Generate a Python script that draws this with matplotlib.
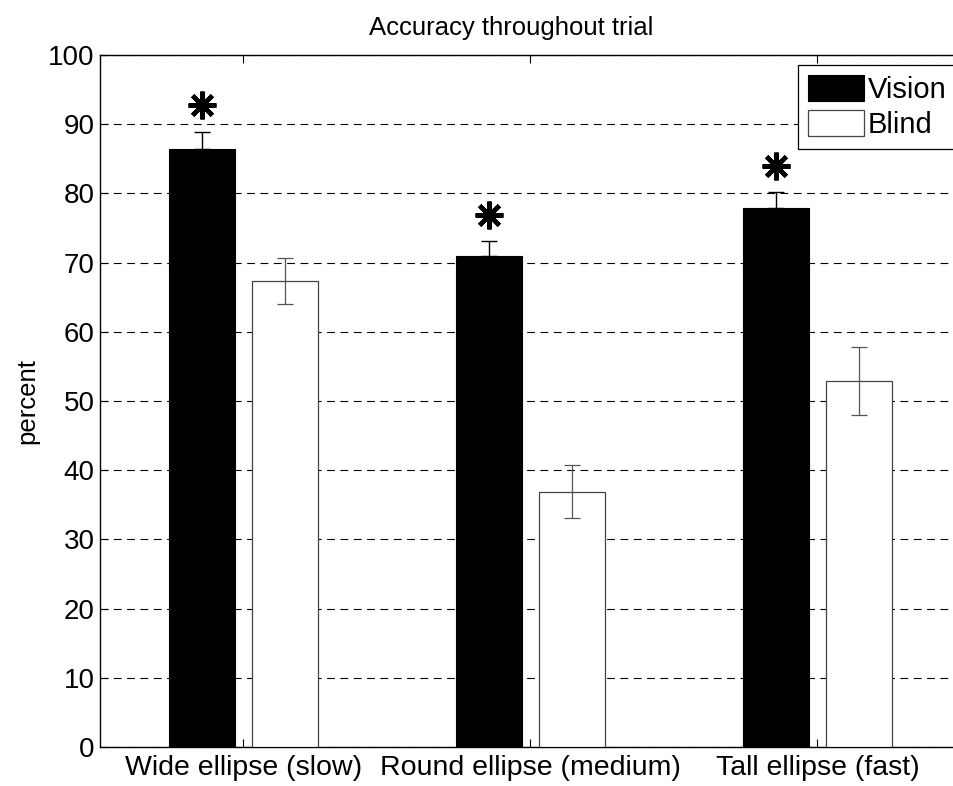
import matplotlib
matplotlib.use("Agg")
import matplotlib.pyplot as plt
import numpy as np
from matplotlib import font_manager

categories = ["Wide ellipse (slow)", "Round ellipse (medium)", "Tall ellipse (fast)"]
vision = [86.4, 71.0, 77.9]
vision_err = [2.5, 2.1, 2.3]
blind = [67.3, 36.9, 52.9]
blind_err = [3.3, 3.8, 4.9]
star_y = [92.8, 76.9, 84.0]
yticks = [0, 10, 20, 30, 40, 50, 60, 70, 80, 90, 100]

names = {f.name for f in font_manager.fontManager.ttflist}
base = "Liberation Sans" if "Liberation Sans" in names else "DejaVu Sans"
plt.rcParams["font.family"] = [base, "DejaVu Sans"]

W_PX, H_PX = 954, 786
AX_L, AX_B, AX_W, AX_H = 100, 39, 880, 692   # axes box in pixels; runs past the right edge
UNIT = 287.0                                  # pixels per category step

fig = plt.figure(figsize=(W_PX / 100, H_PX / 100), dpi=100)
ax = fig.add_axes([AX_L / W_PX, AX_B / H_PX, AX_W / W_PX, AX_H / H_PX])

x = np.arange(1, len(categories) + 1)
w = 0.23
off = 0.143

b_vis = ax.bar(x - off, vision, w, color="black", edgecolor="black", linewidth=0.8, zorder=3)
b_bl = ax.bar(x + off, blind, w, color="white", edgecolor="#444444", linewidth=0.9, zorder=3)

ax.errorbar(x - off, vision, yerr=[np.zeros(3), vision_err], fmt="none",
            ecolor="black", elinewidth=1.0, capsize=6, capthick=1.0, zorder=4)
ax.errorbar(x + off, blind, yerr=blind_err, fmt="none",
            ecolor="#555555", elinewidth=0.9, capsize=6, capthick=0.9, zorder=4)

# significance markers above the vision bars
ax.plot(x - off, star_y, linestyle="none", marker=(8, 2, 0), markersize=20,
        markeredgewidth=3.2, color="black", zorder=5)

ax.set_xlim(0.5, 0.5 + AX_W / UNIT)
ax.set_ylim(0, 100)
ax.set_yticks(yticks)
ax.set_xticks(x)
ax.set_xticklabels(categories, fontsize=20.5)
ax.tick_params(axis="y", labelsize=20, direction="in", length=6, right=False, pad=4)
ax.tick_params(axis="x", direction="in", length=6, top=True, pad=6)

ax.yaxis.grid(True, linestyle=(0, (7, 5)), color="black", linewidth=0.8, zorder=1)
ax.set_axisbelow(True)
ax.spines["right"].set_visible(False)
for s in ax.spines.values():
    s.set_linewidth(1.0)
    s.set_color("black")

ax.set_ylabel("percent", fontsize=18.5, labelpad=6)
ax.text((511 - AX_L) / AX_W, 1.0 + 27 / AX_H, "Accuracy throughout trial",
        transform=ax.transAxes, ha="center", va="center", fontsize=18.5)

leg = ax.legend([b_vis, b_bl], ["Vision", "Blind"], loc="upper right",
                bbox_to_anchor=((957 - AX_L) / AX_W, (AX_H - 10) / AX_H),
                fontsize=21, handlelength=1.9, handleheight=1.0, handletextpad=0.15,
                borderpad=0.35, labelspacing=0.2, borderaxespad=0.0,
                fancybox=False, framealpha=1, edgecolor="black")
leg.get_frame().set_linewidth(0.9)

fig.savefig("out.png", dpi=100)
